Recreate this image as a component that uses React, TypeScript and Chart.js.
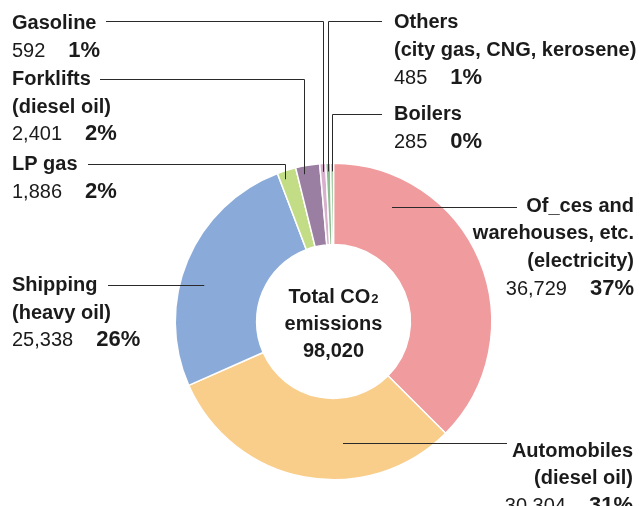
import { useEffect, useRef } from "react";
import { Chart, registerables } from "chart.js";

Chart.register(...registerables);

// ---- Data ----
const categories = [
  "Offices and warehouses, etc. (electricity)",
  "Automobiles (diesel oil)",
  "Shipping (heavy oil)",
  "LP gas",
  "Forklifts (diesel oil)",
  "Gasoline",
  "Others (city gas, CNG, kerosene)",
  "Boilers",
];
const nameLines = [
  ["Of_ces and", "warehouses, etc.", "(electricity)"],
  ["Automobiles", "(diesel oil)"],
  ["Shipping", "(heavy oil)"],
  ["LP gas"],
  ["Forklifts", "(diesel oil)"],
  ["Gasoline"],
  ["Others", "(city gas, CNG, kerosene)"],
  ["Boilers"],
];
const emissions = [36729, 30304, 25338, 1886, 2401, 592, 485, 285];
const valueLabels = ["36,729", "30.304", "25,338", "1,886", "2,401", "592", "485", "285"];
const percentLabels = ["37%", "31%", "26%", "2%", "2%", "1%", "1%", "0%"];
const centerLines = ["Total CO", "emissions", "98,020"];
const centerSub = "2";

// ---- Styles / layout ----
const sliceColors = ["#F09B9D", "#F9CD8A", "#8AABD9", "#C3DC86", "#9A7FA3", "#D8AFCD", "#8DBE90", "#8DBE90"];
const TEXT = "#1b1b1b";
const FONT = '"Liberation Sans", Arial, Helvetica, sans-serif';
const LH = 27.7;

type Lay = { x: number; y: number; align: "left" | "right"; t: number; rf: number; elbowY?: number; toX: number };
const labelLayout: Lay[] = [
  { x: 634, y: 211.7, align: "right", t: 0.2, rf: 0.64, toX: 517 },
  { x: 633, y: 456.7, align: "right", t: 0.365, rf: 0.55, toX: 507 },
  { x: 12, y: 291, align: "left", t: 0.425, rf: 0.705, toX: 108 },
  { x: 12, y: 170, align: "left", t: 0.3, rf: 0.9, elbowY: 164, toX: 88 },
  { x: 12, y: 85, align: "left", t: 0.3, rf: 0.9, elbowY: 79, toX: 100 },
  { x: 12, y: 29, align: "left", t: 0.4, rf: 0.9, elbowY: 20.5, toX: 106 },
  { x: 394, y: 28.3, align: "left", t: 0.5, rf: 0.9, elbowY: 20.5, toX: 382 },
  { x: 394, y: 120, align: "left", t: 0.5, rf: 0.9, elbowY: 113.5, toX: 382 },
];

const leaderPlugin = {
  id: "leaders",
  afterDatasetsDraw(chart: any) {
    const ctx: CanvasRenderingContext2D = chart.ctx;
    const meta = chart.getDatasetMeta(0);
    ctx.save();
    let cx = 0, cy = 0;
    meta.data.forEach((arc: any, i: number) => {
      const p = arc.getProps(["x", "y", "startAngle", "endAngle", "innerRadius", "outerRadius"], true);
      cx = p.x; cy = p.y;
      const L = labelLayout[i];
      const a = p.startAngle + (p.endAngle - p.startAngle) * L.t;
      const r = p.innerRadius + (p.outerRadius - p.innerRadius) * L.rf;
      let px = p.x + r * Math.cos(a);
      let py = p.y + r * Math.sin(a);
      ctx.strokeStyle = "#2a2a2a";
      ctx.lineWidth = 1;
      ctx.beginPath();
      if (L.elbowY != null) {
        px = Math.round(px) + 0.5;
        const ey = Math.round(L.elbowY) + 0.5;
        ctx.moveTo(px, py);
        ctx.lineTo(px, ey);
        ctx.lineTo(L.toX, ey);
      } else {
        py = Math.round(py) + 0.5;
        ctx.moveTo(px, py);
        ctx.lineTo(L.toX, py);
      }
      ctx.stroke();

      // label text
      ctx.fillStyle = TEXT;
      ctx.textBaseline = "alphabetic";
      ctx.textAlign = L.align;
      ctx.font = `bold 20px ${FONT}`;
      const lines = nameLines[i];
      lines.forEach((ln, k) => ctx.fillText(ln, L.x, L.y + k * LH));
      const vy = L.y + lines.length * LH;
      const gap = 23;
      if (L.align === "left") {
        ctx.textAlign = "left";
        ctx.font = `20px ${FONT}`;
        ctx.fillText(valueLabels[i], L.x, vy);
        const w = ctx.measureText(valueLabels[i]).width;
        ctx.font = `bold 22px ${FONT}`;
        ctx.fillText(percentLabels[i], L.x + w + gap, vy);
      } else {
        ctx.textAlign = "right";
        ctx.font = `bold 22px ${FONT}`;
        ctx.fillText(percentLabels[i], L.x, vy);
        const pw = ctx.measureText(percentLabels[i]).width;
        ctx.font = `20px ${FONT}`;
        ctx.fillText(valueLabels[i], L.x - pw - gap, vy);
      }
    });

    // center text
    ctx.fillStyle = TEXT;
    ctx.textAlign = "left";
    ctx.font = `bold 20px ${FONT}`;
    const w1 = ctx.measureText(centerLines[0]).width;
    ctx.font = `bold 13px ${FONT}`;
    const w2 = ctx.measureText(centerSub).width;
    const sx = cx - (w1 + w2 + 1) / 2;
    ctx.font = `bold 20px ${FONT}`;
    ctx.fillText(centerLines[0], sx, cy - 18.2);
    ctx.font = `bold 13px ${FONT}`;
    ctx.fillText(centerSub, sx + w1 + 1, cy - 18.2);
    ctx.textAlign = "center";
    ctx.font = `bold 20px ${FONT}`;
    ctx.fillText(centerLines[1], cx, cy + 8.5);
    ctx.fillText(centerLines[2], cx, cy + 35.2);
    ctx.restore();
  },
};

export default function App() {
  const ref = useRef<HTMLCanvasElement | null>(null);
  useEffect(() => {
    document.body.style.margin = "0";
    if (!ref.current) return;
    const chart = new Chart(ref.current, {
      type: "doughnut",
      data: {
        labels: categories,
        datasets: [
          {
            data: emissions,
            backgroundColor: sliceColors,
            borderColor: "#ffffff",
            borderWidth: 1.5,
            hoverOffset: 0,
            offset: 0,
          },
        ],
      },
      options: {
        responsive: false,
        animation: false,
        cutout: "48.6%",
        layout: { padding: { left: 174.5, right: 151.5, top: 162.5, bottom: 25.5 } },
        plugins: { legend: { display: false }, tooltip: { enabled: false } },
        events: [],
      },
      plugins: [leaderPlugin],
    });
    return () => chart.destroy();
  }, []);
  return (
    <div style={{ width: 644, height: 506, background: "#fff" }}>
      <canvas ref={ref} width={644} height={506} />
    </div>
  );
}
